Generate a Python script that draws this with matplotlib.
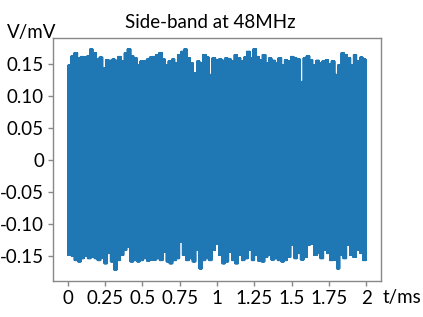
import numpy as np
import matplotlib
matplotlib.use("Agg")
import matplotlib.pyplot as plt

plt.rcParams['font.family'] = ['Lato', 'DejaVu Sans']

# upper and lower peaks of the 48MHz side-band trace (mV)
upper_peaks = [0.148, 0.162, 0.167, 0.159, 0.161, 0.160, 0.162, 0.173, 0.167, 0.157,
               0.160, 0.143, 0.156, 0.155, 0.157, 0.155, 0.161, 0.154, 0.167, 0.173,
               0.162, 0.159, 0.148, 0.154, 0.154, 0.157, 0.160, 0.161, 0.164, 0.167,
               0.157, 0.148, 0.154, 0.157, 0.151, 0.164, 0.169, 0.173, 0.159, 0.151,
               0.135, 0.154, 0.151, 0.164, 0.160, 0.133, 0.159, 0.156, 0.157, 0.155,
               0.159, 0.157, 0.154, 0.164, 0.159, 0.154, 0.160, 0.169, 0.159, 0.173,
               0.161, 0.156, 0.164, 0.151, 0.159, 0.155, 0.151, 0.159, 0.148, 0.156,
               0.154, 0.161, 0.159, 0.157, 0.122, 0.159, 0.162, 0.156, 0.148, 0.155,
               0.151, 0.154, 0.156, 0.150, 0.154, 0.133, 0.148, 0.167, 0.164, 0.159,
               0.148, 0.164, 0.154, 0.160, 0.157]
lower_peaks = [-0.149, -0.150, -0.157, -0.159, -0.154, -0.150, -0.154, -0.152, -0.154, -0.157,
               -0.153, -0.162, -0.146, -0.159, -0.172, -0.157, -0.149, -0.141, -0.136, -0.159,
               -0.157, -0.159, -0.157, -0.154, -0.158, -0.156, -0.156, -0.154, -0.157, -0.144,
               -0.159, -0.162, -0.157, -0.154, -0.128, -0.149, -0.157, -0.154, -0.159, -0.141,
               -0.170, -0.157, -0.154, -0.157, -0.141, -0.131, -0.149, -0.162, -0.159, -0.144,
               -0.157, -0.162, -0.149, -0.157, -0.154, -0.141, -0.157, -0.149, -0.158, -0.159,
               -0.152, -0.149, -0.156, -0.154, -0.157, -0.159, -0.157, -0.152, -0.133, -0.154,
               -0.146, -0.156, -0.152, -0.133, -0.131, -0.149, -0.146, -0.154, -0.141, -0.146,
               -0.157, -0.156, -0.170, -0.149, -0.154, -0.133, -0.149, -0.152, -0.141, -0.146,
               -0.157]
start_value = 0.0
end_value = -0.07
t_end = 2.0
n_cycles = 700  # carrier swings drawn across the 2 ms window

xticks = [0, 0.25, 0.5, 0.75, 1, 1.25, 1.5, 1.75, 2]
xtick_labels = ['0', '0.25', '0.5', '0.75', '1', '1.25', '1.5', '1.75', '2']
yticks = [-0.15, -0.10, -0.05, 0, 0.05, 0.10, 0.15]
ytick_labels = ['-0.15', '-0.10', '-0.05', '0', '0.05', '0.10', '0.15']

# each swing goes up to the peak held in its time slot, then down to the trough
t_sw = np.linspace(0, t_end, 2 * n_cycles + 1)
i_up = np.minimum((t_sw / t_end * len(upper_peaks)).astype(int), len(upper_peaks) - 1)
i_lo = np.minimum((t_sw / t_end * len(lower_peaks)).astype(int), len(lower_peaks) - 1)
up = np.array(upper_peaks)[i_up]
lo = np.array(lower_peaks)[i_lo]
v = np.where(np.arange(len(t_sw)) % 2 == 0, up, lo)
t = np.concatenate([[0], t_sw[1:-1], [t_end]])
v = np.concatenate([[start_value], v[1:-1], [end_value]])

fig = plt.figure(figsize=(4.23, 3.17), dpi=100)
ax = fig.add_axes([0.1253, 0.1136, 0.7754, 0.7666])
ax.plot(t, v, color='#1f77b4', linewidth=1.2)

ax.set_xticks(xticks)
ax.set_xticklabels(xtick_labels)
ax.set_yticks(yticks)
ax.set_yticklabels(ytick_labels)
ax.tick_params(labelsize=13.5, colors='#888888', labelcolor='black', length=3.5, width=1, pad=3)
for s in ax.spines.values():
    s.set_color('#888888')
    s.set_linewidth(1)

fig.text(0.497, 0.93, 'Side-band at 48MHz', ha='center', va='center', fontsize=13.5)
fig.text(0.017, 0.898, 'V/mV', ha='left', va='center', fontsize=13.5)
fig.text(0.905, 0.06, 't/ms', ha='left', va='center', fontsize=13.5)

fig.savefig('out.png', dpi=100)
